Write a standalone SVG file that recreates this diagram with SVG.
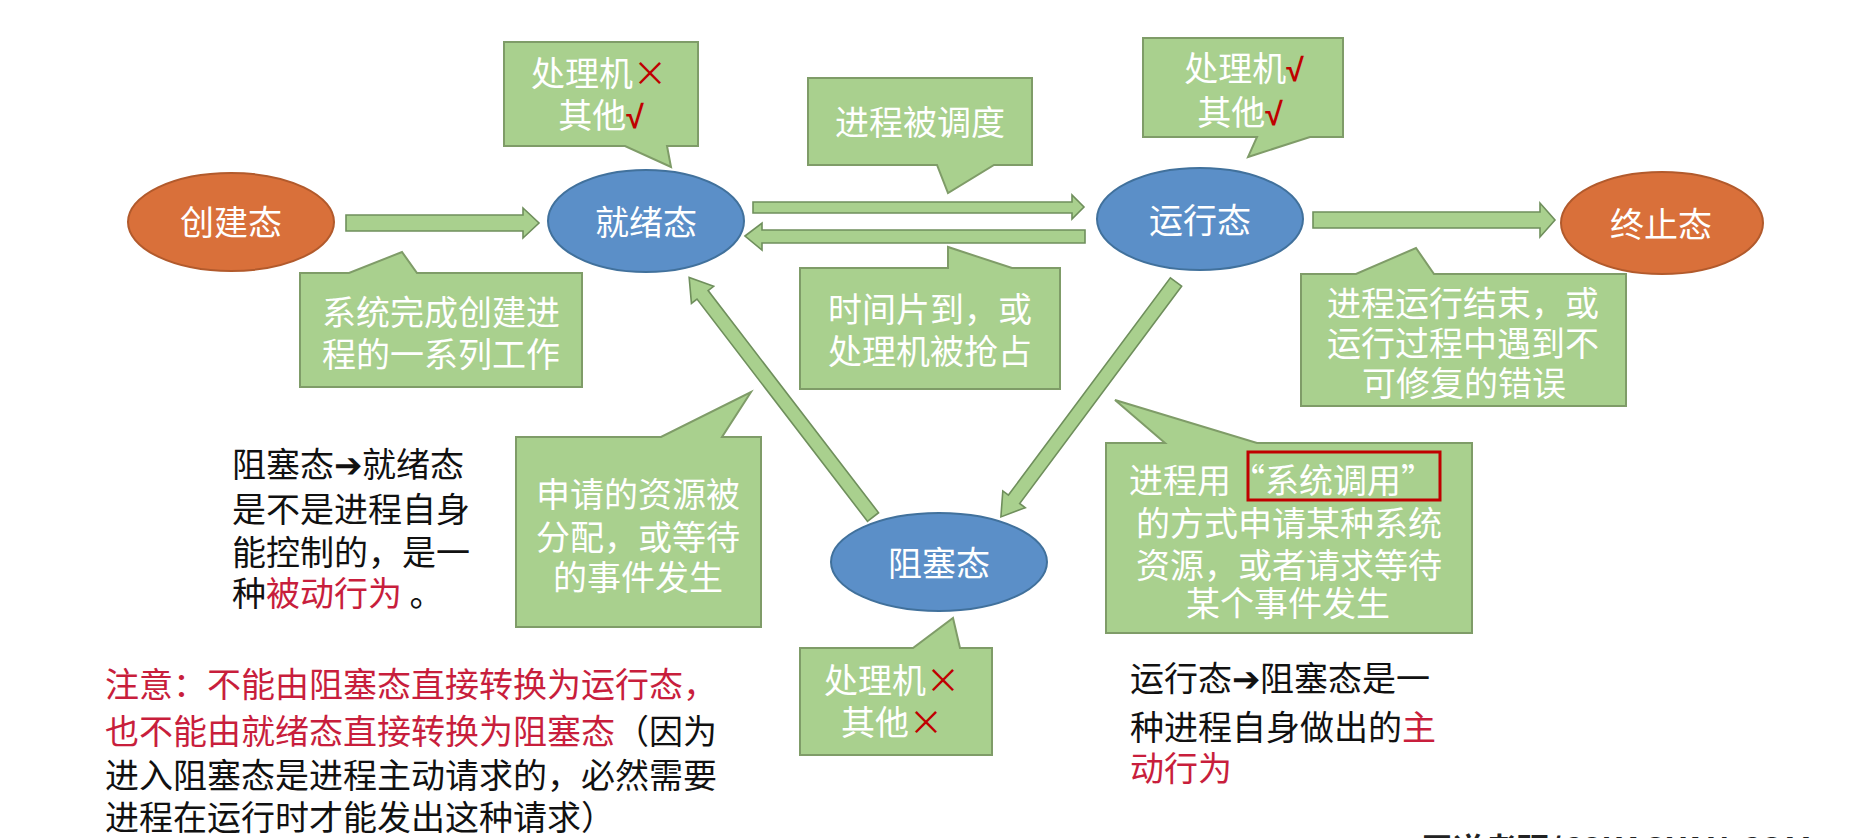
<svg xmlns="http://www.w3.org/2000/svg" width="1873" height="838" viewBox="0 0 1873 838">
<defs>
<style>
.bg{fill:#ffffff}
.blue{fill:#5B8FC8;stroke:#41719C;stroke-width:2}
.orange{fill:#D9703A;stroke:#B25A2C;stroke-width:2}
.call{fill:#A9D08E;stroke:#7F9C68;stroke-width:2}
.arr{fill:#A9D08E;stroke:#6F8F5C;stroke-width:1.6}
.t{font-family:"Noto Sans CJK SC","Noto Sans",sans-serif;font-size:34px}
.w{fill:#ffffff}
.c{text-anchor:middle}
.k{fill:#111111}
.r{fill:#C81E3C}
.m{fill:#C00000}
.v{fill:#C00000;font-family:"Liberation Sans",sans-serif;font-weight:bold;font-size:32px}
</style>
</defs>
<rect class="bg" x="0" y="0" width="1873" height="838"/>

<g id="connectors">
  <polygon class="arr" points="346,215 523,215 523,208 539,223 523,238 523,231 346,231"/>
  <polygon class="arr" points="753,202 1072,202 1072,195 1084,207 1072,219 1072,213 753,213"/>
  <polygon class="arr" points="745,236 762,223 762,230 1085,230 1085,243 762,243 762,250"/>
  <polygon class="arr" points="1313,212 1540,212 1540,203 1555,220 1540,237 1540,228 1313,228"/>
  <path class="arr" transform="translate(873,517) rotate(232.5)" d="M0,-7 H280 V-14 L302,0 L280,14 V7 H0 Z"/>
  <path class="arr" transform="translate(1176,282) rotate(126.7)" d="M0,-7 H271 V-14 L293,0 L271,14 V7 H0 Z"/>
</g>

<g id="node-create">
  <ellipse class="orange" cx="231" cy="222" rx="103" ry="49"/>
  <text class="t w c" x="231" y="235">创建态</text>
</g>
<g id="node-ready">
  <ellipse class="blue" cx="646" cy="221" rx="98" ry="51"/>
  <text class="t w c" x="646" y="235">就绪态</text>
</g>
<g id="node-running">
  <ellipse class="blue" cx="1200" cy="219" rx="103" ry="51"/>
  <text class="t w c" x="1200" y="233">运行态</text>
</g>
<g id="node-terminated">
  <ellipse class="orange" cx="1662" cy="223" rx="101" ry="51"/>
  <text class="t w c" x="1661" y="237">终止态</text>
</g>
<g id="node-blocked">
  <ellipse class="blue" cx="939" cy="562" rx="108" ry="49"/>
  <text class="t w c" x="939" y="576">阻塞态</text>
</g>

<g id="callout-ready-res">
  <path class="call" d="M504,42 H698 V146 H667 L671,167 L625,146 H504 Z"/>
  <text class="t w c" x="599" y="86">处理机<tspan class="m">×</tspan></text>
  <text class="t w c" x="601" y="128">其他<tspan class="v">√</tspan></text>
</g>
<g id="callout-schedule">
  <path class="call" d="M808,78 H1032 V165 H994 L948,193 L937,165 H808 Z"/>
  <text class="t w c" x="920" y="135">进程被调度</text>
</g>
<g id="callout-running-res">
  <path class="call" d="M1143,38 H1343 V137 H1310 L1248,157 L1257,137 H1143 Z"/>
  <text class="t w c" x="1244" y="81">处理机<tspan class="v">√</tspan></text>
  <text class="t w c" x="1240" y="125">其他<tspan class="v">√</tspan></text>
</g>
<g id="callout-create">
  <path class="call" d="M300,273 H349 L402,252 L417,273 H582 V387 H300 Z"/>
  <text class="t w c" x="441" y="325">系统完成创建进</text>
  <text class="t w c" x="441" y="367">程的一系列工作</text>
</g>
<g id="callout-timeslice">
  <path class="call" d="M800,268 H948 L948,247 L1012,268 H1060 V389 H800 Z"/>
  <text class="t w c" x="930" y="322">时间片到，或</text>
  <text class="t w c" x="930" y="364">处理机被抢占</text>
</g>
<g id="callout-terminate">
  <path class="call" d="M1301,274 H1356 L1416,248 L1434,274 H1626 V406 H1301 Z"/>
  <text class="t w c" x="1463" y="316">进程运行结束，或</text>
  <text class="t w c" x="1463" y="356">运行过程中遇到不</text>
  <text class="t w c" x="1464" y="396">可修复的错误</text>
</g>
<g id="callout-wakeup">
  <path class="call" d="M516,437 H661 L751,392 L722,437 H761 V627 H516 Z"/>
  <text class="t w c" x="638" y="507">申请的资源被</text>
  <text class="t w c" x="638" y="550">分配，或等待</text>
  <text class="t w c" x="638" y="590">的事件发生</text>
</g>
<g id="callout-block">
  <path class="call" d="M1106,443 H1165 L1115,400 L1257,443 H1472 V633 H1106 Z"/>
  <rect x="1248" y="452" width="192" height="48" fill="none" stroke="#C00000" stroke-width="3"/>
  <text class="t w" x="1129" y="493">进程用<tspan x="1231">“系统调用”</tspan></text>
  <text class="t w c" x="1289" y="536">的方式申请某种系统</text>
  <text class="t w c" x="1289" y="578">资源，或者请求等待</text>
  <text class="t w c" x="1288" y="616">某个事件发生</text>
</g>
<g id="callout-blocked-res">
  <path class="call" d="M800,648 H913 L953,618 L960,648 H992 V755 H800 Z"/>
  <text class="t w c" x="892" y="693">处理机<tspan class="m">×</tspan></text>
  <text class="t w c" x="892" y="735">其他<tspan class="m">×</tspan></text>
</g>

<g id="note-passive">
  <text class="t k" x="232" y="477">阻塞态➔就绪态</text>
  <text class="t k" x="232" y="522">是不是进程自身</text>
  <text class="t k" x="232" y="565">能控制的，是一</text>
  <text class="t k" x="232" y="606">种<tspan class="r">被动行为</tspan> 。</text>
</g>
<g id="note-warning">
  <text class="t r" x="105" y="697">注意：不能由阻塞态直接转换为运行态，</text>
  <text class="t r" x="105" y="744">也不能由就绪态直接转换为阻塞态<tspan class="k">（因为</tspan></text>
  <text class="t k" x="105" y="788">进入阻塞态是进程主动请求的，必然需要</text>
  <text class="t k" x="105" y="830">进程在运行时才能发出这种请求）</text>
</g>
<g id="note-active">
  <text class="t k" x="1130" y="691">运行态➔阻塞态是一</text>
  <text class="t k" x="1130" y="740">种进程自身做出的<tspan class="r">主</tspan></text>
  <text class="t r" x="1130" y="781">动行为</text>
</g>
<g id="watermark">
  <text x="1421" y="861" font-family="'Noto Sans CJK SC','Liberation Sans',sans-serif" font-size="32" font-weight="bold" fill="#222222">王道考研/CSKAOYAN.COM</text>
</g>
</svg>
